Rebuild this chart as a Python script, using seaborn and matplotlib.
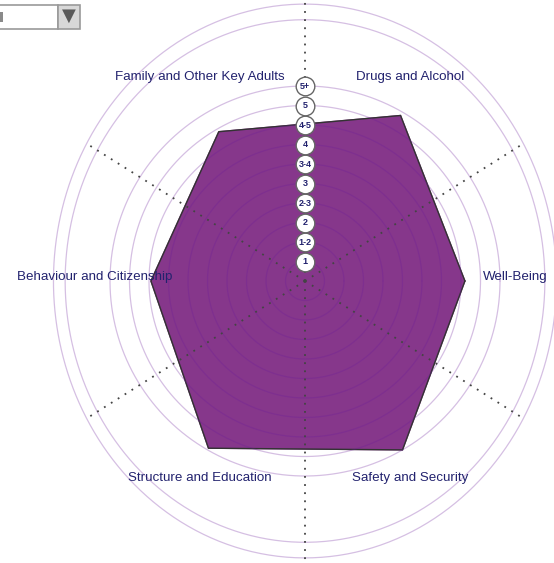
import numpy as np
import pandas as pd
import matplotlib.pyplot as plt
import seaborn as sns
from matplotlib.patches import Rectangle

# outcome areas, anticlockwise from the right
categories = ["Well-Being", "Drugs and Alcohol", "Family and Other Key Adults",
              "Behaviour and Citizenship", "Structure and Education", "Safety and Security"]
angles_deg = [0, 60, 120, 180, 240, 300]
# scores (scale 1 .. 5+)
scores = [4.6, 5.4, 4.92, 4.45, 5.45, 5.5]
ring_labels = ["1", "1-2", "2", "2-3", "3", "3-4", "4", "4-5", "5", "5+"]

PURPLE = "#86378b"
NAVY = "#22226e"
RING = "#6a1b9a"
W, H = 554, 563
CX, CY = 305, 281          # centre in pixels
PX = 19.5                  # pixels per ring
RMAX = 14.3
STRETCH = 1.09             # outer layout is slightly taller than wide


def score_to_ring(s):
    return 2 * s - 1


def main():
    sns.set_theme(style="white")
    plt.rcParams["font.family"] = ["Liberation Sans", "DejaVu Sans"]

    fig = plt.figure(figsize=(W / 100, H / 100), dpi=100)
    rad = RMAX * PX
    ax = fig.add_axes([(CX - rad) / W, (H - CY - rad) / H, 2 * rad / W, 2 * rad / H],
                      projection="polar")
    ax.set_ylim(0, RMAX)
    ax.grid(False)
    ax.set_xticks([])
    ax.set_yticks([])
    ax.spines["polar"].set_visible(False)
    ax.set_facecolor("none")

    df = pd.DataFrame({
        "category": categories,
        "theta": np.deg2rad(angles_deg),
        "r": [score_to_ring(s) for s in scores],
    })
    closed = pd.concat([df, df.iloc[:1]], ignore_index=True)

    # filled profile
    ax.fill(closed["theta"], closed["r"], color=PURPLE, zorder=1)
    sns.lineplot(data=closed, x="theta", y="r", sort=False, estimator=None,
                 color="#333333", lw=1, ax=ax, zorder=2)

    # rings (translucent purple: pale on white, dark on the fill)
    th = np.linspace(0, 2 * np.pi, 400)
    for k in range(1, len(ring_labels) + 1):
        ax.plot(th, np.full_like(th, k), color=RING, alpha=0.28, lw=0.9, zorder=3)

    # outer elliptical rings
    for a, b in [(12.3, 13.4), (12.9, 14.2)]:
        rr = a * b / np.sqrt((b * np.cos(th)) ** 2 + (a * np.sin(th)) ** 2)
        ax.plot(th, rr, color=RING, alpha=0.28, lw=0.9, zorder=3)

    # dotted spokes between the areas
    for d in [30, 90, 150, 210, 270, 330]:
        t = np.deg2rad(d)
        if d in (90, 270):
            length = 14.4
        else:
            t = np.arctan2(STRETCH * np.sin(t), np.cos(t))
            length = 13.2
        ax.plot([t, t], [0, length], color="#444444", lw=1.3,
                linestyle=(0, (1, 3.5)), zorder=4)

    # ring value markers up the vertical axis
    ks = np.arange(1, len(ring_labels) + 1)
    ax.scatter(np.full(len(ks), np.pi / 2), ks, s=180, facecolor="white",
               edgecolor="#666666", lw=1, zorder=5)
    for k, lab in zip(ks, ring_labels):
        ax.text(np.pi / 2, k, lab, ha="center", va="center", fontsize=6.5,
                fontweight="bold", color=NAVY, zorder=6)

    # category labels on a slightly stretched ring
    R, S = 10.8, 1.099
    for cat, d in zip(categories, angles_deg):
        t = np.deg2rad(d)
        x, y = R * np.cos(t), S * R * np.sin(t) + 0.2
        ax.text(np.arctan2(y, x), np.hypot(x, y), cat, ha="center", va="center",
                fontsize=9.6, color=NAVY, zorder=6)

    # drop-down widget in the top-left corner
    def px_rect(x0, y0, w, h, **kw):
        fig.patches.append(Rectangle((x0 / W, 1 - (y0 + h) / H), w / W, h / H,
                                     transform=fig.transFigure, **kw))

    px_rect(-2, 5, 60, 24, facecolor="white", edgecolor="#9a9a9a", lw=1.2)
    px_rect(58, 5, 22, 24, facecolor="#d8d8d8", edgecolor="#9a9a9a", lw=1.2)
    px_rect(0, 12, 3, 10, facecolor="#8a8a8a", edgecolor="none")
    fig.text(69 / W, 1 - 16 / H, "\u25bc", ha="center", va="center",
             fontsize=13, color="#5a5a5a", family="DejaVu Sans")

    fig.savefig("out.png", dpi=100)


if __name__ == "__main__":
    main()
